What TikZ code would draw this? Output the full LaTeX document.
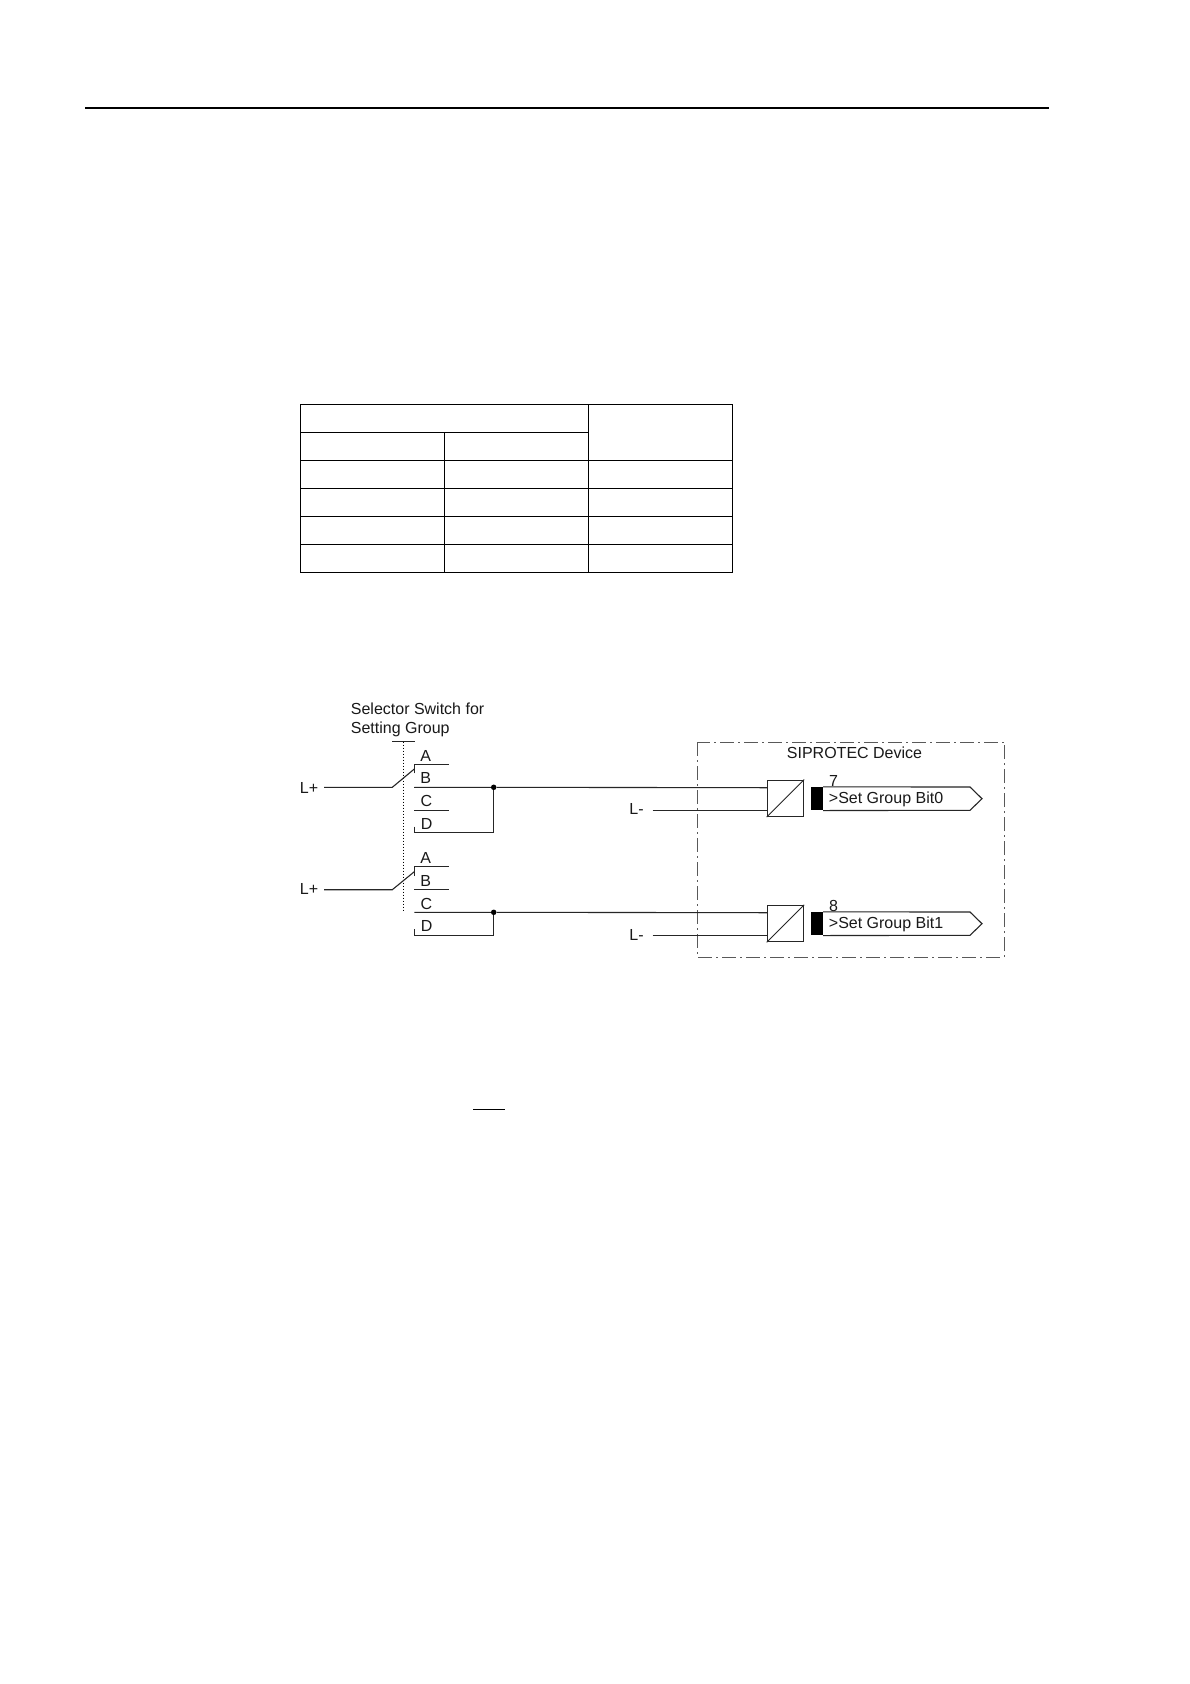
\documentclass[tikz,border=0pt]{standalone}
\usepackage{fontspec}
\setmainfont{Liberation Sans}
\begin{document}
\begin{tikzpicture}[x=1pt,y=-1pt,
  wire/.style={line width=1.1pt,draw=black!85},
  rulebar/.style={line width=1.1pt,draw=black},
  gridline/.style={line width=1.2pt,draw=black},
  devframe/.style={line width=0.9pt,draw=black!65,dash pattern=on 14pt off 4pt on 2pt off 4pt},
  gang/.style={line width=0.8pt,draw=black,dash pattern=on 1.6pt off 1.4pt},
  lbl/.style={font=\fontsize{16}{18}\selectfont,inner sep=0pt,anchor=base west,text=black!90},
  clbl/.style={font=\fontsize{16}{18}\selectfont,inner sep=0pt,anchor=center,text=black!90},
  conv/.style={draw=black!85,line width=1.1pt,minimum size=36.4pt,inner sep=0pt,fill=white},
  jdot/.style={circle,fill=black,inner sep=0pt,minimum size=5.5pt},
  marker/.style={fill=black,draw=none,inner sep=0pt,minimum width=12pt,minimum height=23.3pt}]
\useasboundingbox (0,0) rectangle (1190,1684);
\fill[white] (0,0) rectangle (1190,1684);
% page rule and short bar
\draw[rulebar] (85,108) -- (1048.5,108);
\draw[rulebar] (473.3,1109.3) -- (505,1109.3);
% table
\draw[gridline] (300.3,404.3) rectangle (732.7,572.3);
\draw[gridline] (300.3,432.3) -- (588.7,432.3);
\draw[gridline] (300.3,460.3) -- (732.7,460.3);
\draw[gridline] (300.3,488.3) -- (732.7,488.3);
\draw[gridline] (300.3,516.3) -- (732.7,516.3);
\draw[gridline] (300.3,544.3) -- (732.7,544.3);
\draw[gridline] (444.3,432.3) -- (444.3,572.3);
\draw[gridline] (588.7,404.3) -- (588.7,572.3);
% selector title
\node[lbl] (t1) at (350.7,714.3) {Selector Switch for};
\node[lbl] (t2) at (350.7,733.3) {Setting Group};
% ganged actuator
\coordinate (g0) at (403.3,741.7);
\coordinate (g1) at (403.3,911.7);
\draw[wire] (392,741.7) -- (415,741.7);
\draw[gang] (g0) -- (g1);
% switch 1
\node[clbl] (lp1) at (309,787.5) {L+};
\coordinate (lp1e) at (324,787.3);
\coordinate (k1) at (392.3,787.3);
\coordinate (s1) at (414.3,769);
\draw[wire] (lp1e) -- (k1) -- (s1);
\draw[wire] (414.3,773.3) -- (414.3,764.3) -- (449,764.3);
\draw[wire] (414.3,787.3) -- (449,787.3);
\draw[wire] (414.3,810.5) -- (449,810.5);
\node[clbl] (a1) at (425.7,755.7) {A};
\node[clbl] (b1) at (425.7,778.4) {B};
\node[clbl] (c1) at (426.5,801) {C};
\node[clbl] (d1) at (426.7,823.7) {D};
\node[jdot] (j1) at (493.7,787.3) {};
\draw[wire] (414.3,826.7) -- (414.3,832.3) -- (j1 |- 0,832.3) -- (j1);
% switch 2
\node[clbl] (lp2) at (309,889) {L+};
\coordinate (lp2e) at (324,889.7);
\coordinate (k2) at (392.3,889.7);
\coordinate (s2) at (414.3,871.7);
\draw[wire] (lp2e) -- (k2) -- (s2);
\draw[wire] (414.3,876) -- (414.3,866.7) -- (449,866.7);
\draw[wire] (414.3,889.7) -- (449,889.7);
\node[clbl] (a2) at (425.7,858) {A};
\node[clbl] (b2) at (425.7,880.5) {B};
\node[clbl] (c2) at (426.5,903.5) {C};
\node[clbl] (d2) at (426.7,926) {D};
\node[jdot] (j2) at (493.7,912.3) {};
\draw[wire] (414.3,929.3) -- (414.3,935.5) -- (j2 |- 0,935.5) -- (j2);
% device frame
\draw[devframe] (697.7,742) rectangle (1004.3,957.3);
\node[clbl] (dev) at (854.5,752.3) {SIPROTEC Device};
% converters
\node[conv] (cv1) at (785.5,798.3) {};
\node[conv] (cv2) at (785.5,923.5) {};
\draw[wire,line width=0.9pt] (cv1.south west) -- (cv1.north east);
\draw[wire,line width=0.9pt] (cv2.south west) -- (cv2.north east);
% wires to converters
\coordinate (c1a) at (cv1.west |- 0,787.7);
\coordinate (c1b) at (cv1.west |- 0,810.3);
\coordinate (c2a) at (cv2.west |- 0,912.7);
\coordinate (c2b) at (cv2.west |- 0,935.3);
\draw[wire] (414.3,787.3) -- (j1) -- (c1a);
\draw[wire] (414.3,912.3) -- (j2) -- (c2a);
\node[clbl] (lm1) at (636.5,809.3) {L-};
\node[clbl] (lm2) at (636.5,935) {L-};
\coordinate (lm1e) at (652.7,810.3);
\coordinate (lm2e) at (652.7,935.3);
\draw[wire] (lm1e) -- (c1b);
\draw[wire] (lm2e) -- (c2b);
% binary inputs
\node[marker] (m1) at (817,798.7) {};
\node[marker] (m2) at (817,923.7) {};
\draw[wire] (m1.north east) -- (970,787) -- (982,798.7) -- (970,810.3) -- (m1.south east);
\draw[wire] (m2.north east) -- (970,912) -- (982,923.7) -- (970,935.3) -- (m2.south east);
\node[lbl] (n7) at (829,786.7) {7};
\node[lbl] (n8) at (829,911.5) {8};
\node[lbl] (s7) at (828.7,803.3) {>Set Group Bit0};
\node[lbl] (s8) at (828.7,928.3) {>Set Group Bit1};
\end{tikzpicture}
\end{document}
